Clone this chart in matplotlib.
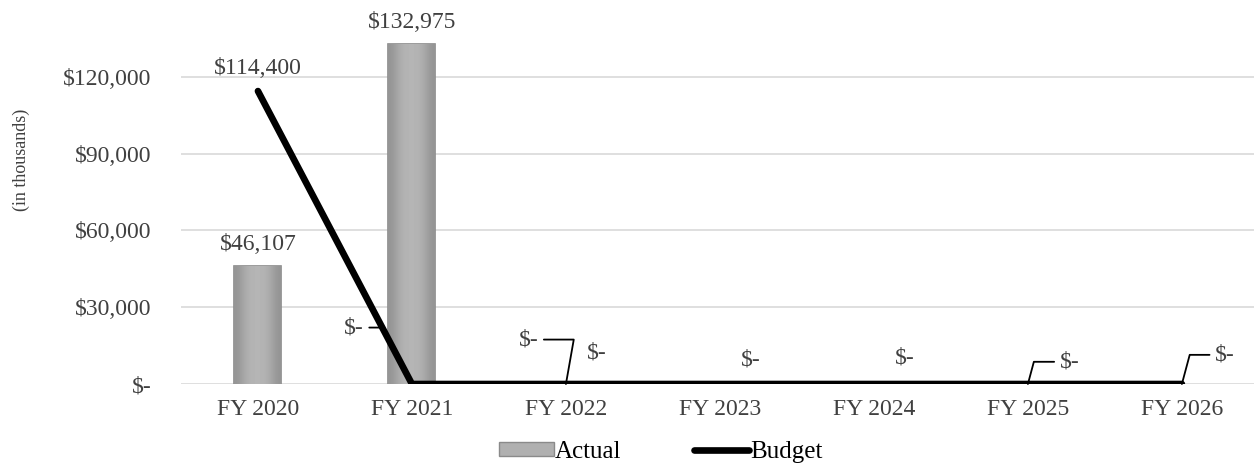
import matplotlib
matplotlib.use("Agg")
import matplotlib.pyplot as plt
import numpy as np
from matplotlib.lines import Line2D
from matplotlib.patches import Patch

plt.rcParams["font.family"] = ["Liberation Serif", "DejaVu Serif"]

years = ["FY 2020", "FY 2021", "FY 2022", "FY 2023", "FY 2024", "FY 2025", "FY 2026"]
actual = [46107, 132975, 0, 0, 0, 0, 0]
budget = [114400, 0, 0, 0, 0, 0, 0]
yticks = [0, 30000, 60000, 90000, 120000]

fontsize = 17
textcolor = "#404040"


def money(v):
    return "$-" if v == 0 else "${:,.0f}".format(v)


fig = plt.figure(figsize=(12.54, 4.69), dpi=100)
ax = fig.add_axes([0.1443, 0.1812, 0.8596, 0.819])

x = list(range(len(years)))
bars = ax.bar(x[:2], actual[:2], width=0.305, color="#a8a8a8", edgecolor="#8a8a8a",
              linewidth=1.2, zorder=2)
# shaded look on the bars
grad = np.array([[0.58, 0.68, 0.71, 0.71, 0.68, 0.58]])
for b in bars:
    im = ax.imshow(grad, cmap="gray", vmin=0, vmax=1, aspect="auto", zorder=2.1,
                   extent=[b.get_x(), b.get_x() + b.get_width(), 0, b.get_height()],
                   interpolation="bicubic")
    im.set_clip_path(b)
ax.plot(x, budget, color="black", linewidth=4.8, solid_capstyle="round", zorder=3)

ax.set_xlim(-0.5, 6.5)
ax.set_ylim(0, 150000)
ax.set_yticks(yticks)
ax.set_yticklabels([money(v) for v in yticks])
ax.set_xticks(x)
ax.set_xticklabels(years)
ax.tick_params(axis="y", length=0, labelsize=fontsize, labelcolor=textcolor, pad=21)
ax.tick_params(axis="x", length=0, labelsize=fontsize, labelcolor=textcolor, pad=11)
for s in ax.spines.values():
    s.set_visible(False)
ax.yaxis.grid(True, color="#d9d9d9", linewidth=1.2, zorder=0)
ax.set_axisbelow(True)
fig.text(0.017, 0.66, "(in thousands)", rotation=90, ha="center", va="center",
         fontsize=13, color=textcolor)

# bar and point labels
ax.text(0, actual[0] + 8300, money(actual[0]), ha="center", va="center",
        fontsize=fontsize, color=textcolor)
ax.text(1, actual[1] + 8300, money(actual[1]), ha="center", va="center",
        fontsize=fontsize, color=textcolor)
ax.text(0, budget[0] + 8700, money(budget[0]), ha="center", va="center",
        fontsize=fontsize, color=textcolor)
for i, yv in zip([2, 3, 4], [12000, 9300, 10100]):
    ax.text(i + 0.2, yv, money(actual[i]), ha="center", va="center",
            fontsize=fontsize, color=textcolor)

# budget zero labels with leader lines
lead = dict(arrowstyle="-", color="black", lw=1.3, shrinkA=2, shrinkB=0)
ax.annotate(money(budget[1]), xy=(1 - 21500 / budget[0], 21500), xytext=(-21, 1),
            textcoords="offset points", ha="center", va="center",
            fontsize=fontsize, color=textcolor,
            arrowprops=dict(lead, connectionstyle="angle,angleA=0,angleB=-20"))
ax.annotate(money(budget[2]), xy=(2, 0), xytext=(-27, 32),
            textcoords="offset points", ha="center", va="center",
            fontsize=fontsize, color=textcolor,
            arrowprops=dict(lead, connectionstyle="angle,angleA=0,angleB=80"))
ax.annotate(money(budget[5]), xy=(5, 0), xytext=(30, 16),
            textcoords="offset points", ha="center", va="center",
            fontsize=fontsize, color=textcolor,
            arrowprops=dict(lead, connectionstyle="angle,angleA=0,angleB=75"))
ax.annotate(money(budget[6]), xy=(6, 0), xytext=(31, 21),
            textcoords="offset points", ha="center", va="center",
            fontsize=fontsize, color=textcolor,
            arrowprops=dict(lead, connectionstyle="angle,angleA=0,angleB=75"))

handles = [Patch(facecolor="#b0b0b0", edgecolor="#8a8a8a", label="Actual"),
           Line2D([0], [0], color="black", linewidth=4.8, solid_capstyle="round", label="Budget")]
fig.legend(handles=handles, loc="center", ncol=2, frameon=False,
           fontsize=18, bbox_to_anchor=(0.527, 0.036), handleheight=0.45,
           handlelength=2.2, handletextpad=0.05, columnspacing=2.9,
           labelcolor="black")

fig.savefig("out.png", dpi=100)
